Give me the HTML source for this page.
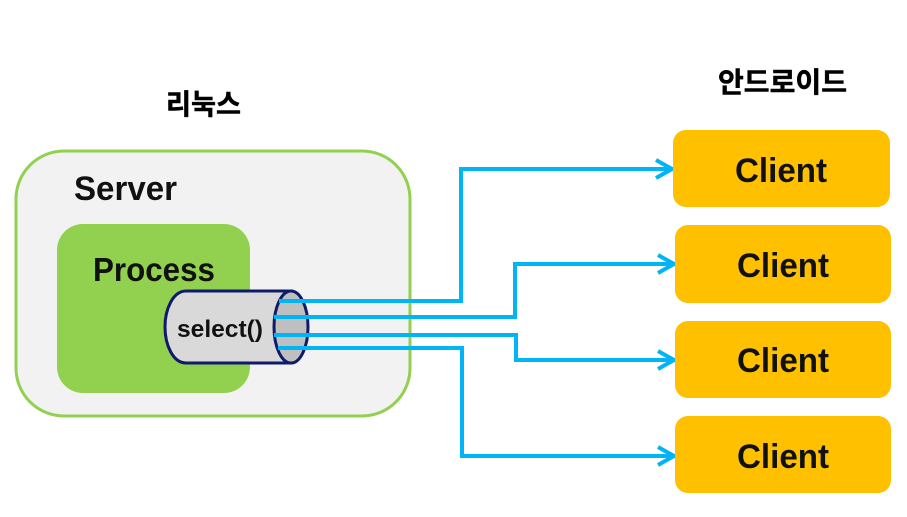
<!DOCTYPE html>
<html><head><meta charset="utf-8"><style>
html,body{margin:0;padding:0;background:#fff}
svg{display:block}
text{font-family:"Liberation Sans","Noto Sans CJK KR",sans-serif;font-weight:bold;fill:#111}
.k{font-family:"Noto Sans CJK KR","NanumGothic",sans-serif;font-weight:700;fill:#000;stroke:#000;stroke-width:.5}
.w{fill:none;stroke:#00b4f5;stroke-width:4}
.c{font-size:34px}
</style></head><body>
<svg width="907" height="517" viewBox="0 0 907 517" xmlns="http://www.w3.org/2000/svg">
<rect width="907" height="517" fill="#fff"/>
<text class="k" x="166" y="114" font-size="28" textLength="75" lengthAdjust="spacingAndGlyphs">리눅스</text>
<text class="k" x="718" y="92" font-size="28" textLength="129" lengthAdjust="spacingAndGlyphs">안드로이드</text>
<rect x="16" y="151" width="394" height="265" rx="48" fill="#f2f2f2" stroke="#92d050" stroke-width="3"/>
<text x="74" y="200" font-size="34" textLength="103" lengthAdjust="spacingAndGlyphs">Server</text>
<rect x="57" y="224" width="193" height="169" rx="26" fill="#92d050"/>
<text x="93" y="281" font-size="33" textLength="122" lengthAdjust="spacingAndGlyphs">Process</text>
<path d="M186 291H291V363H186C173 363 165 345 165 327C165 309 173 291 186 291Z" fill="#d9d9d9" stroke="#0f1a6b" stroke-width="3"/>
<ellipse cx="291" cy="327" rx="17" ry="36" fill="#bfbfbf" stroke="#0f1a6b" stroke-width="3"/>
<text x="177" y="337" font-size="24" textLength="86" lengthAdjust="spacingAndGlyphs">select()</text>
<path class="w" d="M279 301H461V169H672"/>
<path class="w" d="M274 317H515V264H674"/>
<path class="w" d="M274 335H516V360H674"/>
<path class="w" d="M278 348H462V456H674"/>
<path class="w" d="M656 160L672 169L656 178M658 255L674 264L658 273M658 351L674 360L658 369M658 447L674 456L658 465"/>
<rect x="673" y="130" width="217" height="77" rx="13" fill="#ffc000"/>
<rect x="675" y="225" width="216" height="78" rx="13" fill="#ffc000"/>
<rect x="675" y="321" width="216" height="77" rx="13" fill="#ffc000"/>
<rect x="675" y="416" width="216" height="77" rx="13" fill="#ffc000"/>
<text class="c" x="735" y="182" textLength="92" lengthAdjust="spacingAndGlyphs">Client</text>
<text class="c" x="737" y="277" textLength="92" lengthAdjust="spacingAndGlyphs">Client</text>
<text class="c" x="737" y="372" textLength="92" lengthAdjust="spacingAndGlyphs">Client</text>
<text class="c" x="737" y="468" textLength="92" lengthAdjust="spacingAndGlyphs">Client</text>
</svg>
</body></html>
